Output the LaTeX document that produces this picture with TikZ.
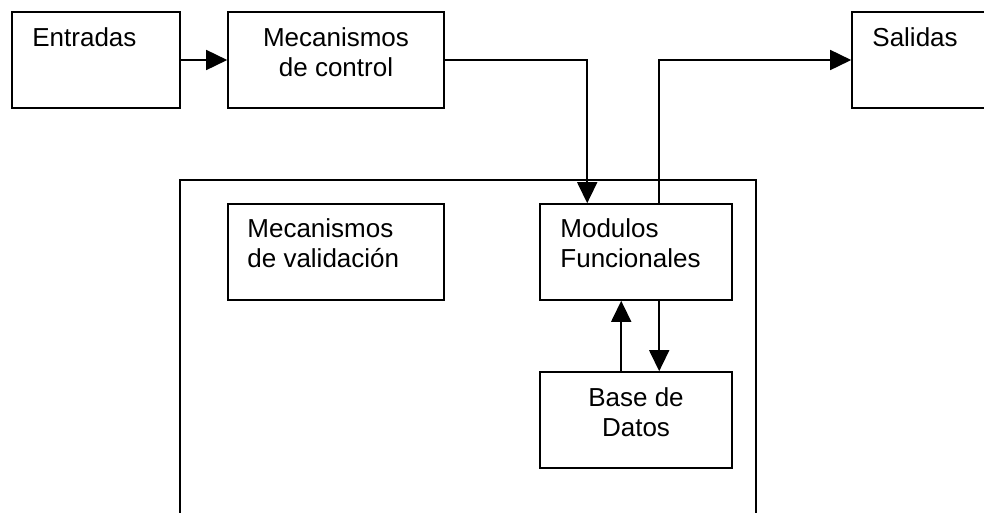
\documentclass[tikz,border=0pt]{standalone}
\usepackage{fontspec}
\setmainfont{Liberation Sans}
\usetikzlibrary{arrows.meta}

\begin{document}
\begin{tikzpicture}[x=1pt, y=-1pt,
    box/.style   = {draw, line width=1.6pt, inner sep=0pt,
                    minimum height=96pt},
    txt/.style   = {font=\fontsize{26}{29.5}\selectfont, inner sep=0pt},
    flecha/.style = {line width=1.6pt,
                     -{Triangle[length=21pt, width=20pt]}},
  ]
  \useasboundingbox (0,0) rectangle (984,512);
  \clip (0,0) rectangle (984,512);

  % cajas de arriba
  \node[box, minimum width=168pt] (ent)  at (96,60)  {};
  \node[box, minimum width=216pt] (ctrl) at (336,60) {};
  \node[box, minimum width=168pt] (sal)  at (936,60) {};

  % sistema
  \node[box, minimum width=576pt, minimum height=360pt] (sis) at (468,360) {};
  \node[box, minimum width=216pt] (val) at (336,252) {};
  \node[box, minimum width=192pt] (mod) at (636,252) {};
  \node[box, minimum width=192pt] (bd)  at (636,420) {};

  % textos
  \node[txt, anchor=north west] (enttxt)
    at ([xshift=21pt, yshift=-16.4pt]ent.north west) {Entradas};
  \node[txt, align=center, anchor=north] (ctrltxt)
    at ([yshift=-16.4pt]ctrl.north) {Mecanismos\\de control};
  \node[txt, anchor=north west] (saltxt)
    at ([xshift=21pt, yshift=-16.4pt]sal.north west) {Salidas};
  \node[txt, align=left, anchor=north west] (valtxt)
    at ([xshift=20pt, yshift=-15.4pt]val.north west) {Mecanismos\\de validación};
  \node[txt, align=left, anchor=north west] (modtxt)
    at ([xshift=21pt, yshift=-15.4pt]mod.north west) {Modulos\\Funcionales};
  \node[txt, align=center, anchor=north] (bdtxt)
    at ([yshift=-16.4pt]bd.north) {Base de\\Datos};

  % conectores
  \coordinate (modin)  at ([xshift=48pt]mod.north west);
  \coordinate (modout) at ([xshift=120pt]mod.north west);
  \draw[flecha] (ent.east) -- (ctrl.west);
  \draw[flecha] (ctrl.east) -| (modin);
  \draw[flecha] (modout) |- (sal.west);
  \draw[flecha] ([xshift=82pt]bd.north west) -- ([xshift=82pt]mod.south west);
  \draw[flecha] ([xshift=120pt]mod.south west) -- ([xshift=120pt]bd.north west);
\end{tikzpicture}
\end{document}
